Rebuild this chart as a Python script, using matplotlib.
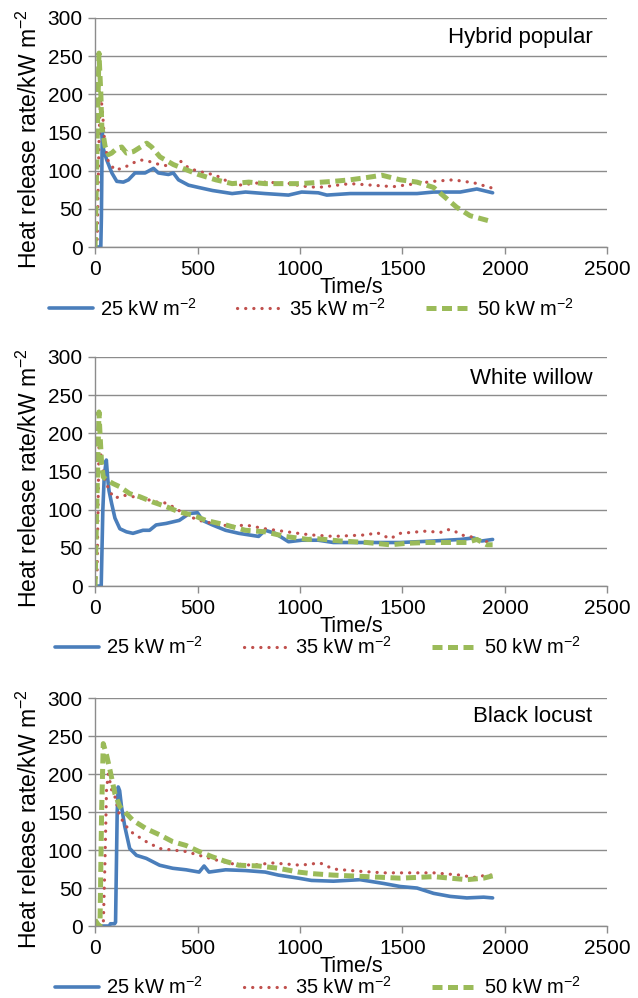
import numpy as np
import matplotlib
matplotlib.use("Agg")
import matplotlib.pyplot as plt

plt.rcParams["font.family"] = ["Liberation Sans", "DejaVu Sans"]
plt.rcParams["mathtext.fontset"] = "custom"
plt.rcParams["mathtext.rm"] = "Liberation Sans"
plt.rcParams["mathtext.it"] = "Liberation Sans"
plt.rcParams["mathtext.bf"] = "Liberation Sans"

# ---- Hybrid popular ----
hp_t25 = [0, 28, 31, 35, 41, 57, 82, 106, 138, 163, 195, 244, 285, 309, 358, 382, 407, 456, 505, 573,
          669, 734, 830, 944, 1008, 1089, 1131, 1245, 1408, 1571, 1652, 1782, 1863, 1940]
hp_v25 = [0, 0, 40, 151, 128, 114, 97, 86, 85, 88, 97, 97, 103, 97, 95, 97, 88, 81, 78, 74,
          70, 72, 70, 68, 72, 71, 68, 70, 70, 70, 72, 72, 76, 71]
hp_t35 = [0, 10, 20, 28, 38, 46, 62, 78, 94, 135, 184, 224, 265, 314, 362, 419, 459, 508, 589, 653,
          702, 830, 960, 1001, 1089, 1245, 1455, 1650, 1748, 1850, 1940]
hp_v35 = [0, 5, 150, 200, 171, 140, 114, 108, 101, 103, 110, 114, 112, 108, 106, 112, 103, 99, 94, 85,
          81, 85, 83, 80, 78, 83, 79, 86, 88, 84, 77]
hp_t50 = [0, 8, 19, 28, 33, 49, 65, 81, 106, 130, 154, 187, 252, 276, 317, 382, 447, 504, 589, 669,
          750, 830, 911, 1001, 1164, 1245, 1326, 1400, 1489, 1571, 1652, 1700, 1765, 1830, 1940]
hp_v50 = [0, 105, 254, 202, 158, 132, 121, 123, 129, 131, 123, 125, 136, 131, 118, 108, 101, 95, 88, 83,
          85, 83, 83, 83, 86, 88, 91, 94, 88, 85, 78, 67, 52, 41, 33]

# ---- White willow ----
ww_t25 = [0, 30, 38, 45, 55, 62, 68, 81, 97, 121, 153, 185, 234, 266, 298, 347, 411, 460, 500, 524,
          573, 637, 702, 798, 830, 879, 944, 1008, 1089, 1163, 1326, 1489, 1652, 1782, 1847, 1887, 1940]
ww_v25 = [0, 0, 100, 145, 165, 140, 125, 108, 89, 75, 71, 69, 73, 73, 80, 82, 86, 95, 96, 86,
          80, 73, 69, 65, 73, 69, 58, 60, 60, 57, 57, 57, 59, 61, 63, 59, 61]
ww_t35 = [0, 10, 19, 24, 32, 48, 73, 97, 137, 185, 234, 298, 331, 379, 444, 508, 573, 669, 734, 830,
          992, 1050, 1163, 1326, 1375, 1440, 1489, 1619, 1684, 1717, 1750, 1782, 1830, 1887, 1940]
ww_v35 = [0, 20, 182, 187, 160, 139, 123, 115, 119, 117, 115, 110, 110, 104, 93, 86, 82, 78, 80, 75,
          69, 67, 65, 67, 70, 62, 69, 72, 70, 74, 73, 67, 65, 59, 57]
ww_t50 = [0, 8, 19, 24, 32, 40, 56, 89, 121, 169, 218, 282, 347, 411, 476, 540, 637, 734, 830, 927,
          1040, 1082, 1196, 1326, 1440, 1522, 1619, 1733, 1814, 1863, 1912, 1940]
ww_v50 = [0, 100, 228, 200, 160, 143, 139, 134, 130, 121, 117, 110, 104, 97, 93, 86, 80, 73, 71, 65,
          61, 62, 59, 57, 54, 56, 57, 57, 57, 61, 54, 54]

# ---- Black locust ----
bl_t25 = [0, 70, 75, 95, 100, 108, 113, 120, 129, 145, 169, 202, 250, 315, 379, 444, 508, 532, 556, 637,
          734, 830, 895, 992, 1056, 1163, 1293, 1408, 1489, 1571, 1652, 1733, 1814, 1896, 1940]
bl_v25 = [0, 0, 3, 3, 5, 150, 183, 178, 157, 131, 102, 93, 89, 80, 76, 74, 71, 79, 71, 74,
          73, 71, 67, 63, 60, 59, 61, 56, 52, 50, 43, 39, 37, 38, 37]
bl_t35 = [0, 24, 40, 48, 56, 65, 81, 97, 121, 153, 185, 250, 315, 379, 444, 508, 589, 669, 766, 863,
          960, 1001, 1098, 1163, 1293, 1408, 1489, 1652, 1782, 1847, 1912, 1940]
bl_v35 = [8, 0, 0, 80, 180, 200, 179, 170, 144, 131, 122, 111, 102, 100, 98, 93, 87, 82, 80, 83,
          81, 80, 83, 75, 72, 70, 70, 70, 67, 64, 67, 67]
bl_t50 = [0, 15, 24, 32, 40, 56, 73, 97, 121, 153, 185, 250, 315, 379, 444, 508, 573, 637, 702, 798,
          895, 992, 1056, 1163, 1326, 1489, 1652, 1733, 1814, 1896, 1940]
bl_v50 = [8, 2, 0, 150, 240, 225, 205, 174, 157, 148, 139, 128, 120, 111, 106, 98, 91, 85, 80, 79,
          76, 71, 69, 67, 65, 63, 65, 63, 61, 63, 66]

panel_names = ["Hybrid popular", "White willow", "Black locust"]
legend_labels = ["25 kW m$^{-2}$", "35 kW m$^{-2}$", "50 kW m$^{-2}$"]
x_ticks = [0, 500, 1000, 1500, 2000, 2500]
y_ticks = [0, 50, 100, 150, 200, 250, 300]

panels = [
    [(hp_t25, hp_v25), (hp_t35, hp_v35), (hp_t50, hp_v50)],
    [(ww_t25, ww_v25), (ww_t35, ww_v35), (ww_t50, ww_v50)],
    [(bl_t25, bl_v25), (bl_t35, bl_v35), (bl_t50, bl_v50)],
]

styles = [
    dict(color="#4A7EBB", lw=2.6, ls="-", solid_capstyle="round"),
    dict(color="#C0504D", lw=2.3, ls=(0, (0.05, 2.5)), dash_capstyle="round"),
    dict(color="#9BBB59", lw=3.6, ls=(0, (2.0, 1.1)), dash_capstyle="butt"),
]

grey = "#8c8c8c"
axes_rect = [
    [0.149, 0.7525, 0.803, 0.2295],
    [0.149, 0.4128, 0.803, 0.2295],
    [0.149, 0.0721, 0.803, 0.2285],
]
legend_x = [0.488, 0.498, 0.498]
legend_y = [0.691, 0.352, 0.011]
name_y = [0.913, 0.908, 0.917]

fig = plt.figure(figsize=(6.38, 9.98), dpi=100)

for i, series in enumerate(panels):
    ax = fig.add_axes(axes_rect[i])
    for (t, v), st, lab in zip(series, styles, legend_labels):
        ax.plot(t, v, label=lab, **st)
    ax.set_xlim(0, 2500)
    ax.set_ylim(0, 300)
    ax.set_xticks(x_ticks)
    ax.set_yticks(y_ticks)
    ax.grid(axis="y", color=grey, lw=1.0)
    ax.set_axisbelow(True)
    for s in ["top", "right"]:
        ax.spines[s].set_visible(False)
    for s in ["left", "bottom"]:
        ax.spines[s].set_color(grey)
        ax.spines[s].set_linewidth(1.0)
    ax.tick_params(direction="out", length=5, width=1, color=grey, labelsize=15, pad=4)
    ax.set_xlabel("Time/s", fontsize=15.5, labelpad=0)
    ax.xaxis.set_label_coords(0.5, -0.13)
    ax.set_ylabel("Heat release rate/kW m$^{-2}$", fontsize=16.5)
    ax.yaxis.set_label_coords(-0.104, 0.47)
    ax.text(0.971, name_y[i], panel_names[i], transform=ax.transAxes,
            ha="right", va="center", fontsize=16)
    ax.legend(loc="center", bbox_to_anchor=(legend_x[i], legend_y[i]),
              bbox_transform=fig.transFigure, ncol=3, frameon=False,
              fontsize=14.5, handlelength=2.2, handletextpad=0.35,
              columnspacing=2.0, borderpad=0, borderaxespad=0)

fig.savefig("out.png", dpi=100)
